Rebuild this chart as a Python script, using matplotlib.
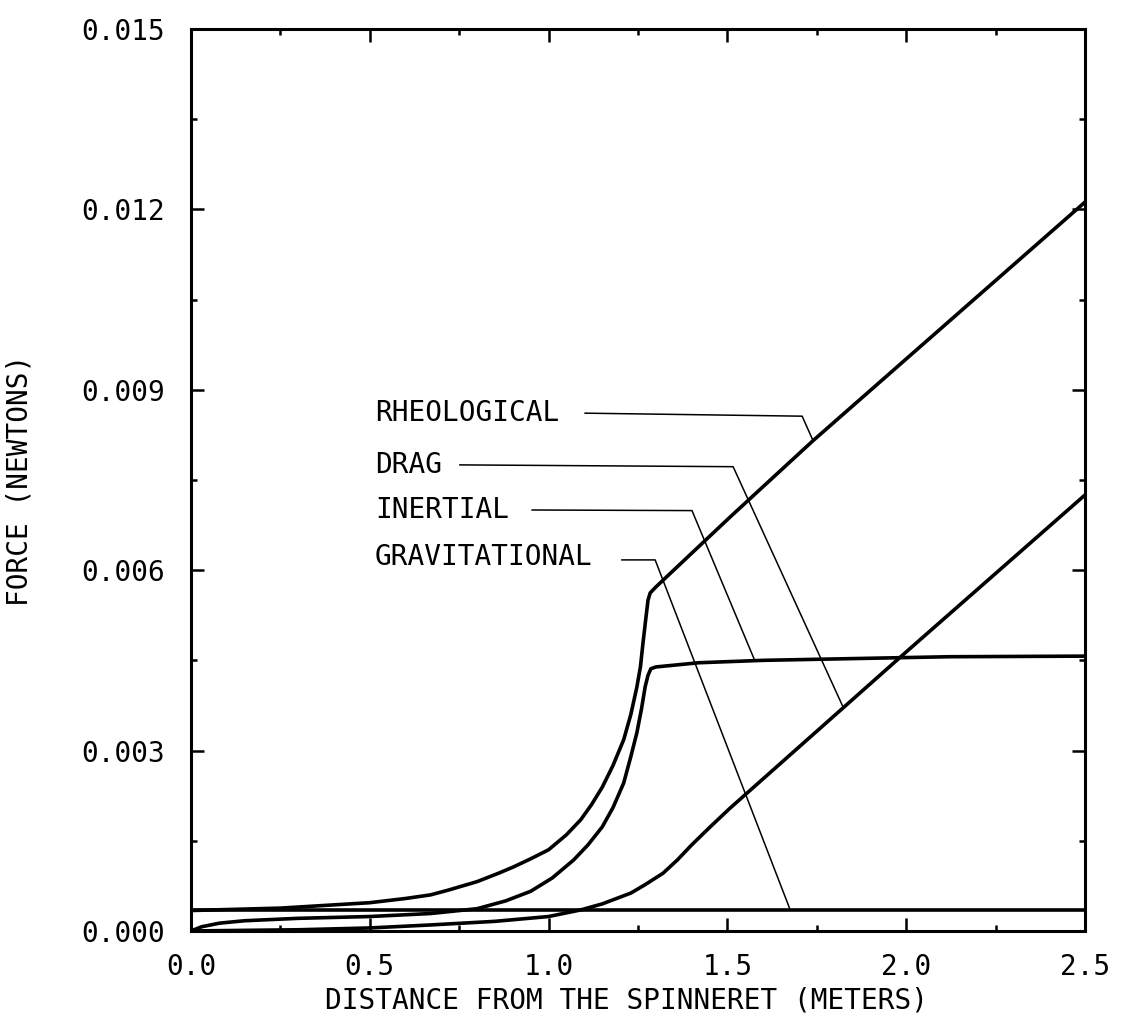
import matplotlib
matplotlib.use('Agg')
import matplotlib.pyplot as plt
from matplotlib.ticker import MultipleLocator, FormatStrFormatter

# curves (x in meters, force in newtons)
x_rheo = [0.0, 0.25, 0.5, 0.6, 0.67, 0.72, 0.8, 0.86, 0.9, 0.95, 1.0, 1.05,
          1.09, 1.12, 1.15, 1.18, 1.21, 1.23, 1.247, 1.257, 1.264, 1.272,
          1.278, 1.284, 1.3, 1.507, 1.739, 2.5]
y_rheo = [0.00034, 0.00038, 0.00047, 0.00054, 0.0006, 0.00068, 0.00082,
          0.00096, 0.00106, 0.0012, 0.00135, 0.0016, 0.00185, 0.0021, 0.00239,
          0.00275, 0.00318, 0.0036, 0.00406, 0.0044, 0.00479, 0.0052, 0.0055,
          0.00562, 0.00572, 0.00688, 0.00815, 0.01212]

x_inert = [0.0, 0.03, 0.08, 0.15, 0.3, 0.5, 0.67, 0.8, 0.88, 0.95, 1.01, 1.07,
           1.11, 1.15, 1.18, 1.21, 1.23, 1.247, 1.26, 1.27, 1.278, 1.286, 1.3,
           1.42, 1.6, 2.12, 2.5]
y_inert = [0.0, 0.00007, 0.00013, 0.00017, 0.00021, 0.00024, 0.00029, 0.00037,
           0.0005, 0.00066, 0.00088, 0.00118, 0.00143, 0.00173, 0.00205,
           0.00246, 0.0029, 0.0033, 0.0037, 0.00406, 0.00425, 0.00436, 0.00439,
           0.00446, 0.0045, 0.00456, 0.00457]

x_drag = [0.0, 0.3, 0.5, 0.67, 0.85, 1.0, 1.09, 1.15, 1.23, 1.27, 1.32, 1.36,
          1.4, 1.45, 1.507, 2.0, 2.5]
y_drag = [0.0, 0.00002, 0.00005, 0.0001, 0.00016, 0.00024, 0.00035, 0.00045,
          0.00063, 0.00077, 0.00096, 0.00118, 0.00143, 0.00172, 0.00204,
          0.00464, 0.00725]

x_grav = [0.0, 2.5]
y_grav = [0.00035, 0.00035]

curve_names = ['RHEOLOGICAL', 'DRAG', 'INERTIAL', 'GRAVITATIONAL']

# label anchor and leader polylines (data coords)
label_pos = {
    'RHEOLOGICAL': (0.5145, 0.00861),
    'DRAG': (0.5145, 0.00775),
    'INERTIAL': (0.5145, 0.00700),
    'GRAVITATIONAL': (0.5145, 0.00622),
}
leaders = {
    'RHEOLOGICAL': ([1.102, 1.709, 1.739], [0.00861, 0.00856, 0.00816]),
    'DRAG': ([0.752, 1.516, 1.823], [0.00775, 0.00772, 0.00373]),
    'INERTIAL': ([0.954, 1.401, 1.577], [0.00700, 0.00699, 0.00449]),
    'GRAVITATIONAL': ([1.205, 1.298, 1.675], [0.00617, 0.00617, 0.00036]),
}

plt.rcParams['font.family'] = ['DejaVu Sans Mono']
fs = 20

fig = plt.figure(figsize=(11.26, 10.17), dpi=100)
ax = fig.add_axes([0.1696, 0.0846, 0.794, 0.887])

lw = 2.6
ax.plot(x_rheo, y_rheo, color='black', lw=lw)
ax.plot(x_inert, y_inert, color='black', lw=lw)
ax.plot(x_drag, y_drag, color='black', lw=lw)
ax.plot(x_grav, y_grav, color='black', lw=lw)

for name in curve_names:
    tx, ty = label_pos[name]
    ax.text(tx, ty, name, fontsize=fs, ha='left', va='center')
    lx, ly = leaders[name]
    ax.plot(lx, ly, color='black', lw=1.1)

ax.set_xlim(0, 2.5)
ax.set_ylim(0, 0.015)
ax.xaxis.set_major_locator(MultipleLocator(0.5))
ax.xaxis.set_minor_locator(MultipleLocator(0.25))
ax.yaxis.set_major_locator(MultipleLocator(0.003))
ax.yaxis.set_minor_locator(MultipleLocator(0.0015))
ax.xaxis.set_major_formatter(FormatStrFormatter('%.1f'))
ax.yaxis.set_major_formatter(FormatStrFormatter('%.3f'))

ax.tick_params(which='both', direction='in', top=True, right=True, width=1.8,
               labelsize=fs)
ax.tick_params(which='major', length=9.5)
ax.tick_params(which='minor', length=4.5)
ax.tick_params(axis='x', pad=16)
ax.tick_params(axis='y', pad=19)
for s in ax.spines.values():
    s.set_linewidth(2.2)

ax.set_xlabel('DISTANCE FROM THE SPINNERET (METERS)', fontsize=fs)
ax.set_ylabel('FORCE (NEWTONS)', fontsize=fs)
ax.xaxis.set_label_coords(0.487, -0.062)
ax.yaxis.set_label_coords(-0.176, 0.5)

plt.savefig('out.png', dpi=100)
